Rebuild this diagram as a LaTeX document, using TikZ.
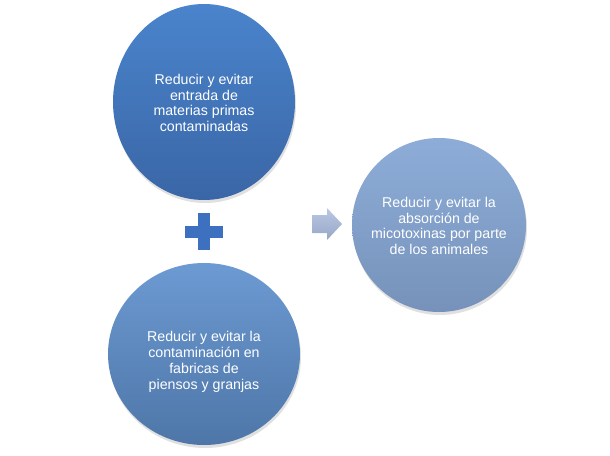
\documentclass[tikz,border=0pt]{standalone}
\usepackage{fontspec}
\setmainfont{Liberation Sans}
\usepackage{xcolor}
\usepackage{tikz}
\usetikzlibrary{shapes.geometric}

\definecolor{azulA}{HTML}{4A84CC}
\definecolor{azulAb}{HTML}{3A66A6}
\definecolor{azulB}{HTML}{6C9AD2}
\definecolor{azulBb}{HTML}{4E76A8}
\definecolor{azulC}{HTML}{8DADD8}
\definecolor{azulCb}{HTML}{7692BA}
\definecolor{cruz}{HTML}{3D70BF}
\definecolor{flechaA}{HTML}{BAC8E4}
\definecolor{flechaB}{HTML}{97A6C6}

\begin{document}
\begin{tikzpicture}[
  x=1pt, y=-1pt,
  circ/.style={ellipse, inner sep=0pt},
  txt/.style={align=center, text=white, inner sep=0pt,
              font=\fontsize{14.2}{15.8}\selectfont},
  sombra/.style={ellipse, fill=black, opacity=0.12, inner sep=0pt}
]
  \useasboundingbox (0,0) rectangle (610,455);

  % sombras
  \node[sombra, minimum width=182, minimum height=196] at (205,105) {};
  \node[sombra, minimum width=192, minimum height=182] at (205,357) {};
  \node[sombra, minimum width=174, minimum height=174] at (440,228) {};

  % circulos
  \node[circ, top color=azulA, bottom color=azulAb,
        minimum width=182, minimum height=196] (entrada) at (204,102) {};
  \node[circ, top color=azulB, bottom color=azulBb,
        minimum width=192, minimum height=182] (fabrica) at (204,354) {};
  \node[circ, top color=azulC, bottom color=azulCb,
        minimum width=174, minimum height=174] (absorcion) at (439,225) {};

  % textos
  \node[txt] (t1) at (204,103)
        {Reducir y evitar\\entrada de\\materias primas\\contaminadas};
  \node[txt] (t2) at (204,362)
        {Reducir y evitar la\\contaminación en\\fabricas de\\piensos y granjas};
  \node[txt] (t3) at (439,226)
        {Reducir y evitar la\\absorción de\\micotoxinas por parte\\de los animales};

  % signo mas
  \fill[cruz] (198,213) rectangle (210,250);
  \fill[cruz] (185,226) rectangle (223,238);

  % flecha
  \shade[top color=flechaA, bottom color=flechaB]
    (312,215) -- (327,215) -- (327,208) -- (342,224)
    -- (327,240) -- (327,233) -- (312,233) -- cycle;
\end{tikzpicture}
\end{document}
